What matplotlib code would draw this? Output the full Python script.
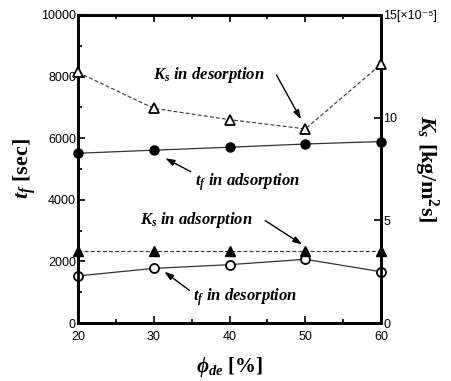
import matplotlib
matplotlib.use('Agg')
import matplotlib.pyplot as plt
from matplotlib.ticker import MultipleLocator, FixedLocator, FixedFormatter

plt.rcParams.update({
    'font.family': ['Liberation Sans', 'DejaVu Sans'],
    'font.size': 9,
    'mathtext.fontset': 'custom',
    'mathtext.rm': 'Liberation Serif:bold',
    'mathtext.it': 'Liberation Serif:italic:bold',
    'mathtext.bf': 'Liberation Serif:bold',
})

phi = [20, 30, 40, 50, 60]
tf_ads = [5510, 5610, 5705, 5810, 5890]      # sec
tf_des = [1530, 1775, 1895, 2070, 1665]      # sec
ks_des = [12.2, 10.45, 9.9, 9.45, 12.6]      # x1e-5 kg/m2s
ks_ads = [3.5, 3.5, 3.5, 3.5, 3.5]           # x1e-5 kg/m2s

right_ticks = [0, 5, 10, 15]
right_labels = ['0', '5', '10', '15[×10⁻⁵]']

fig = plt.figure(figsize=(4.51, 3.81), dpi=100)
ax = fig.add_axes([0.173, 0.152, 0.672, 0.809])
ax2 = ax.twinx()

ax.plot(phi, tf_ads, '-', color='#333333', lw=0.9, marker='o', ms=6.5,
        mfc='black', mec='black', clip_on=False, zorder=3)
ax.plot(phi, tf_des, '-', color='#333333', lw=0.9, marker='o', ms=6.5,
        mfc='white', mec='black', mew=1.3, clip_on=False, zorder=3)
ax2.plot(phi, ks_des, '--', color='#333333', lw=0.8, dashes=(3.5, 2), marker='^', ms=7.5,
         mfc='white', mec='black', mew=1.3, clip_on=False, zorder=3)
ax2.plot(phi, ks_ads, '--', color='#333333', lw=0.8, dashes=(3.5, 2), marker='^', ms=7.5,
         mfc='black', mec='black', clip_on=False, zorder=3)

ax.set_xlim(20, 60)
ax.set_ylim(0, 10000)
ax2.set_ylim(0, 15)

ax.xaxis.set_major_locator(MultipleLocator(10))
ax.xaxis.set_minor_locator(MultipleLocator(5))
ax.yaxis.set_major_locator(MultipleLocator(2000))
ax.yaxis.set_minor_locator(MultipleLocator(1000))
ax2.yaxis.set_major_locator(FixedLocator(right_ticks))
ax2.yaxis.set_major_formatter(FixedFormatter(right_labels))

ax.tick_params(which='both', direction='in', top=True, right=False, width=1.2, pad=1.5)
ax.tick_params(axis='x', pad=6)
ax.tick_params(which='major', length=5)
ax.tick_params(which='minor', length=3)
ax2.tick_params(which='both', direction='in', width=1.2, length=5, pad=1.5)

for a in (ax, ax2):
    for s in a.spines.values():
        s.set_linewidth(2)

ax.set_xlabel(r'$\phi_{de}$ [%]', fontsize=15, family='Liberation Serif',
              weight='bold', labelpad=8)
ax.set_ylabel(r'$t_f$ [sec]', fontsize=16, family='Liberation Serif',
              weight='bold', labelpad=2)
ax2.set_ylabel(r'$K_s$ [kg/m$^2$s]', fontsize=16, family='Liberation Serif',
               weight='bold', rotation=270, labelpad=2)

tkw = dict(fontsize=12, family='Liberation Serif', weight='bold', style='italic',
           va='center', ha='left')
akw = dict(arrowstyle='-|>,head_length=0.6,head_width=0.2', color='black', lw=1)

# Ks in desorption
ax2.text(29.9, 12.08, r'$K_s$ in desorption', **tkw)
ax2.annotate('', xy=(49.6, 9.8), xytext=(46.0, 12.2), arrowprops=akw)
# tf in adsorption
ax.text(35.4, 4580, r'$t_f$ in adsorption', **tkw)
ax.annotate('', xy=(31.2, 5390), xytext=(35.2, 4870), arrowprops=akw)
# Ks in adsorption
ax2.text(28.2, 5.02, r'$K_s$ in adsorption', **tkw)
ax2.annotate('', xy=(49.9, 3.75), xytext=(44.4, 5.06), arrowprops=akw)
# tf in desorption
ax.text(35.2, 845, r'$t_f$ in desorption', **tkw)
ax.annotate('', xy=(31.1, 1720), xytext=(35.0, 1006), arrowprops=akw)

fig.savefig('out.png', dpi=100)
